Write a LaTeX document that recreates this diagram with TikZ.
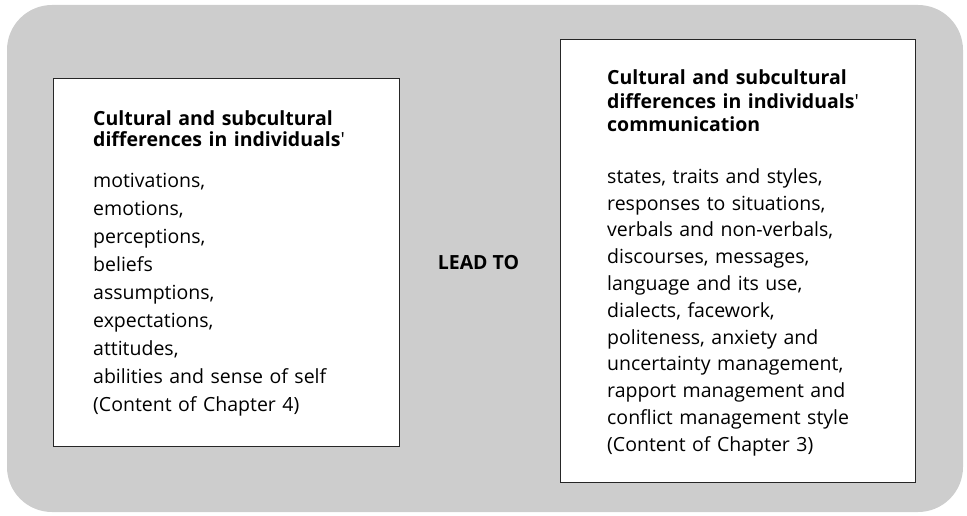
\documentclass[tikz,border=0pt]{standalone}
\usepackage{fontspec}
\setmainfont{Open Sans}
\definecolor{panelgrey}{HTML}{CDCDCD}
\begin{document}
\begin{tikzpicture}[x=1pt,y=-1pt,
  panel/.style={draw=black!85, line width=1.2pt, fill=white, inner sep=0pt, anchor=north west},
  txt/.style={anchor=base west, inner sep=0pt, align=left, text width=320pt,
              font=\fontsize{19.5}{#1}\selectfont},
  lead/.style={inner sep=0pt, font=\fontsize{19.5}{23}\selectfont\bfseries}
]
\useasboundingbox (0,0) rectangle (967,516);
% grey backdrop with rounded corners
\fill[panelgrey, rounded corners=45pt] (7,5) rectangle (963,512);

% the two white panels
\node[panel, minimum width=346pt, minimum height=368pt] (left) at (53,78) {};
\node[panel, minimum width=355pt, minimum height=443pt] (right) at (560,39) {};

% left panel text
\node[txt=21] (lhead) at (93,126)
  {\textbf{Cultural and subcultural}\\\textbf{differences in individuals}\textquotesingle};
\node[txt=28] (llist) at (93,187.7)
  {motivations,\\emotions,\\perceptions,\\beliefs\\assumptions,\\expectations,\\attitudes,\\abilities and sense of self\\(Content of Chapter 4)};

% right panel text
\node[txt=23.3] (rhead) at (607,85)
  {\textbf{Cultural and subcultural}\\\textbf{differences in individuals}\textquotesingle\\\textbf{communication}};
\node[txt=26.8] (rlist) at (607,183.3)
  {states, traits and styles,\\responses to situations,\\verbals and non-verbals,\\discourses, messages,\\language and its use,\\dialects, facework,\\politeness, anxiety and\\uncertainty management,\\rapport management and\\conflict management style\\(Content of Chapter 3)};

% link label between the panels
\node[lead] (leadto) at (478.5,262.5) {LEAD TO};
\end{tikzpicture}
\end{document}
